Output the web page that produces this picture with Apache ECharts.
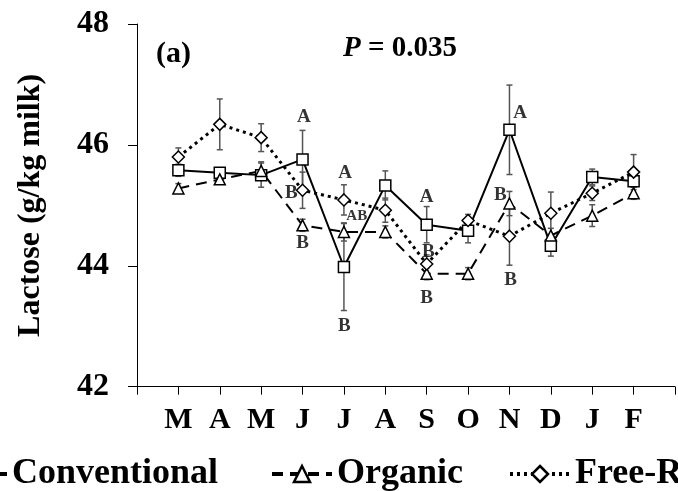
<!DOCTYPE html>
<html>
<head>
<meta charset="utf-8">
<script src="https://cdn.jsdelivr.net/npm/echarts@6/dist/echarts.min.js"></script>
<style>html,body{margin:0;padding:0;background:#fff}#c{width:678px;height:491px}</style>
</head>
<body>
<div id="c"></div>
<script>
const months = ['M','A','M','J','J','A','S','O','N','D','J','F'];
const yTicks = [42, 44, 46, 48];
const conventional = [45.58, 45.54, 45.50, 45.76, 43.98, 45.33, 44.68, 44.58, 46.25, 44.33, 45.47, 45.40];
const conventionalErr = [0.10, 0.06, 0.20, 0.48, 0.72, 0.24, 0.30, 0.20, 0.74, 0.17, 0.13, 0.10];
const organic = [45.28, 45.43, 45.57, 44.67, 44.56, 44.56, 43.87, 43.87, 45.03, 44.50, 44.83, 45.20];
const organicErr = [0.08, 0.08, 0.15, 0.10, 0.15, 0.10, 0.10, 0.10, 0.20, 0.12, 0.18, 0.10];
const freeRange = [45.80, 46.34, 46.12, 45.25, 45.09, 44.92, 44.03, 44.75, 44.49, 44.87, 45.20, 45.55];
const freeRangeErr = [0.15, 0.42, 0.23, 0.30, 0.25, 0.20, 0.15, 0.10, 0.48, 0.35, 0.12, 0.29];
// significance letters: [month position, value, text]
const letters = [
  [4.03, 46.46, 'A'], [3.73, 45.20, 'B'], [4.0, 44.37, 'B'],
  [5.03, 45.53, 'A'], [5.31, 44.83, 'AB'], [5.01, 43.01, 'B'],
  [7.0, 45.13, 'A'], [7.04, 44.22, 'B'], [7.0, 43.46, 'B'],
  [9.26, 46.52, 'A'], [8.78, 45.17, 'B'], [9.03, 43.77, 'B']
];

const FONT = '"Liberation Serif", "Times New Roman", serif';
const chart = echarts.init(document.getElementById('c'), null, {renderer: 'canvas'});

function pts(arr, err) { return arr.map((v, i) => err ? [i + 1, v, err[i]] : [i + 1, v]); }

function errRender(params, api) {
  const x = api.value(0), y = api.value(1), e = api.value(2);
  const t = api.coord([x, y + e]), b = api.coord([x, y - e]);
  const w = 3;
  const st = {stroke: '#555', lineWidth: 1.5};
  return {type: 'group', children: [
    {type: 'line', shape: {x1: t[0], y1: t[1], x2: b[0], y2: b[1]}, style: st},
    {type: 'line', shape: {x1: t[0] - w, y1: t[1], x2: t[0] + w, y2: t[1]}, style: st},
    {type: 'line', shape: {x1: b[0] - w, y1: b[1], x2: b[0] + w, y2: b[1]}, style: st}
  ]};
}

function lineSeries(name, data, symbol, lineType, width) {
  return {
    name: name, type: 'line', data: pts(data), symbol: symbol, symbolSize: symbol === 'diamond' ? 12 : 11,
    lineStyle: {color: '#000', width: width, type: lineType},
    itemStyle: {color: '#fff', borderColor: '#000', borderWidth: 1.5},
    z: 3, animation: false
  };
}

const legendText = {fontFamily: FONT, fontWeight: 'bold', fontSize: 36, color: '#000'};
function legendAt(name, left) {
  return {data: [name], left: left, top: 451, width: 1200, itemWidth: 60, itemHeight: 20,
    textStyle: legendText, lineStyle: {width: 4}, itemStyle: {borderWidth: 2.5}};
}

const letterData = letters.map(l => ({
  value: [l[0], l[1]], name: l[2],
  label: l[2].length > 1 ? {fontSize: 15} : {fontSize: 19}
}));

chart.setOption({
  animation: false,
  title: [
    {text: '(a)', left: 151, top: 34, textStyle: {fontFamily: FONT, fontWeight: 'bold', fontSize: 30, color: '#000'}},
    {text: '{i|P} = 0.035', left: 338, top: 29,
     textStyle: {fontFamily: FONT, fontWeight: 'bold', fontSize: 29, color: '#000',
       rich: {i: {fontFamily: FONT, fontWeight: 'bold', fontStyle: 'italic', fontSize: 29, color: '#000'}}}}
  ],
  legend: [
    legendAt('Conventional', -60),
    legendAt('Organic', 265),
    legendAt('Free-Range', 503)
  ],
  grid: {left: 137, top: 24, width: 569.4, height: 362.7, containLabel: false},
  xAxis: {
    type: 'value', min: 0, max: 13, interval: 1,
    axisLine: {lineStyle: {color: '#000', width: 1}},
    axisTick: {inside: false, length: 8, lineStyle: {color: '#000'}},
    splitLine: {show: false},
    axisLabel: {margin: 19, fontFamily: FONT, fontWeight: 'bold', fontSize: 30, color: '#000',
      formatter: v => months[v - 1] || ''}
  },
  yAxis: {
    type: 'value', min: yTicks[0], max: yTicks[yTicks.length - 1], interval: 2,
    name: 'Lactose (g/kg milk)', nameLocation: 'middle', nameGap: 90,
    nameTextStyle: {fontFamily: FONT, fontWeight: 'bold', fontSize: 32, color: '#000'},
    axisLine: {show: true, lineStyle: {color: '#000', width: 1}},
    axisTick: {show: true, inside: false, length: 9, lineStyle: {color: '#000'}},
    splitLine: {show: false},
    axisLabel: {margin: 28, fontFamily: FONT, fontWeight: 'bold', fontSize: 32, color: '#000'}
  },
  series: [
    {type: 'custom', name: 'errC', data: pts(conventional, conventionalErr), renderItem: errRender, z: 2, silent: true},
    {type: 'custom', name: 'errO', data: pts(organic, organicErr), renderItem: errRender, z: 2, silent: true},
    {type: 'custom', name: 'errF', data: pts(freeRange, freeRangeErr), renderItem: errRender, z: 2, silent: true},
    lineSeries('Conventional', conventional, 'rect', 'solid', 2),
    lineSeries('Organic', organic, 'triangle', [11, 7], 2),
    lineSeries('Free-Range', freeRange, 'diamond', [3, 4], 3),
    {
      type: 'scatter', name: 'letters', symbolSize: 0, z: 5, silent: true,
      data: letterData,
      label: {show: true, position: 'inside', formatter: p => p.name,
        fontFamily: FONT, fontWeight: 'bold', color: '#000', fontSize: 19}
    }
  ]
});
</script>
</body>
</html>
